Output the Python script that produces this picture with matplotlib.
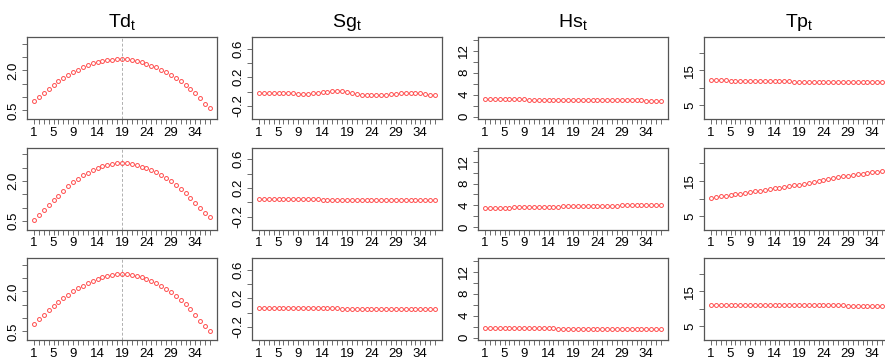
import numpy as np
import matplotlib.pyplot as plt

plt.rcParams['font.family'] = ['Liberation Sans', 'DejaVu Sans']
plt.rcParams['mathtext.fontset'] = 'custom'
plt.rcParams['mathtext.rm'] = 'Liberation Sans'
plt.rcParams['mathtext.it'] = 'Liberation Sans'

# time index
t = np.arange(1, 38)
xtick_labels = ['1', '5', '9', '14', '19', '24', '29', '34']

# Td (3 rows)
td1 = [0.86, 1.02, 1.17, 1.32, 1.46, 1.60, 1.72, 1.83, 1.93, 2.03, 2.12, 2.19, 2.26, 2.31, 2.34, 2.38, 2.40, 2.42, 2.43,
       2.42, 2.39, 2.35, 2.31, 2.24, 2.18, 2.11, 2.02, 1.93, 1.83, 1.72, 1.60, 1.46, 1.31, 1.14, 0.95, 0.76, 0.58]
td2 = [0.53, 0.72, 0.91, 1.10, 1.29, 1.46, 1.64, 1.81, 1.95, 2.08, 2.21, 2.31, 2.41, 2.49, 2.55, 2.60, 2.64, 2.67, 2.68,
       2.66, 2.63, 2.59, 2.54, 2.48, 2.41, 2.33, 2.22, 2.11, 2.00, 1.86, 1.70, 1.54, 1.35, 1.17, 0.99, 0.82, 0.64]
td3 = [0.78, 0.95, 1.13, 1.29, 1.45, 1.60, 1.74, 1.88, 2.00, 2.11, 2.21, 2.31, 2.39, 2.46, 2.53, 2.58, 2.61, 2.64, 2.65,
       2.64, 2.61, 2.58, 2.53, 2.46, 2.39, 2.30, 2.20, 2.09, 1.96, 1.83, 1.68, 1.51, 1.33, 1.11, 0.91, 0.70, 0.50]

# Sg
sg1 = [-0.02, -0.02, -0.02, -0.015, -0.015, -0.015, -0.02, -0.025, -0.03, -0.03, -0.03, -0.025, -0.02, -0.01, 0.0,
       0.01, 0.015, 0.01, 0.0, -0.015, -0.03, -0.04, -0.045, -0.045, -0.045, -0.045, -0.04, -0.035, -0.03, -0.025,
       -0.02, -0.02, -0.02, -0.025, -0.035, -0.045, -0.05]
sg2 = [0.045, 0.045, 0.044, 0.044, 0.043, 0.043, 0.042, 0.042, 0.041, 0.041, 0.040, 0.040, 0.040, 0.039, 0.039,
       0.039, 0.038, 0.038, 0.038, 0.037, 0.037, 0.037, 0.037, 0.036, 0.036, 0.036, 0.036, 0.036, 0.035, 0.035,
       0.035, 0.035, 0.035, 0.035, 0.035, 0.035, 0.035]
sg3 = [0.070, 0.070, 0.070, 0.070, 0.070, 0.070, 0.070, 0.070, 0.070, 0.070, 0.070, 0.070, 0.070, 0.070, 0.070,
       0.070, 0.058, 0.057, 0.057, 0.057, 0.057, 0.057, 0.057, 0.057, 0.057, 0.057, 0.057, 0.057, 0.057, 0.057,
       0.057, 0.057, 0.057, 0.057, 0.057, 0.057, 0.057]

# Hs
hs1 = [3.20, 3.19, 3.18, 3.17, 3.16, 3.15, 3.14, 3.13, 3.12, 3.11, 3.10, 3.09, 3.08, 3.07, 3.06, 3.06, 3.05, 3.04,
       3.03, 3.02, 3.02, 3.01, 3.00, 2.99, 2.99, 2.98, 2.97, 2.97, 2.96, 2.95, 2.95, 2.94, 2.94, 2.93, 2.93, 2.92, 2.92]
hs2 = [3.50, 3.52, 3.54, 3.56, 3.58, 3.60, 3.62, 3.64, 3.66, 3.68, 3.70, 3.72, 3.74, 3.76, 3.78, 3.79, 3.81, 3.83,
       3.84, 3.86, 3.87, 3.89, 3.90, 3.92, 3.93, 3.95, 3.96, 3.97, 3.99, 4.00, 4.01, 4.02, 4.04, 4.05, 4.06, 4.07, 4.08]
hs3 = [1.80, 1.79, 1.78, 1.77, 1.76, 1.75, 1.74, 1.73, 1.72, 1.71, 1.70, 1.69, 1.68, 1.67, 1.66, 1.65, 1.64, 1.63,
       1.62, 1.61, 1.61, 1.60, 1.59, 1.58, 1.58, 1.57, 1.56, 1.56, 1.55, 1.54, 1.54, 1.53, 1.53, 1.52, 1.52, 1.51, 1.51]

# Tp
tp1 = [12.20, 12.17, 12.14, 12.11, 12.08, 12.05, 12.03, 12.00, 11.98, 11.96, 11.94, 11.92, 11.90, 11.88, 11.86,
       11.84, 11.82, 11.80, 11.78, 11.77, 11.75, 11.74, 11.72, 11.71, 11.69, 11.68, 11.66, 11.65, 11.64, 11.62,
       11.61, 11.60, 11.58, 11.57, 11.56, 11.55, 11.54]
tp2 = [10.20, 10.40, 10.60, 10.80, 11.00, 11.20, 11.40, 11.60, 11.85, 12.05, 12.30, 12.50, 12.70, 12.90, 13.10,
       13.30, 13.50, 13.75, 14.00, 14.25, 14.50, 14.75, 15.00, 15.25, 15.50, 15.80, 16.10, 16.30, 16.50, 16.70,
       16.90, 17.10, 17.30, 17.50, 17.70, 17.90, 18.10]
tp3 = [11.10, 11.10, 11.09, 11.09, 11.08, 11.08, 11.07, 11.07, 11.06, 11.06, 11.05, 11.05, 11.04, 11.04, 11.03,
       11.03, 11.02, 11.02, 11.01, 11.01, 11.00, 11.00, 10.99, 10.99, 10.98, 10.98, 10.97, 10.97, 10.96, 10.96,
       10.95, 10.95, 10.94, 10.94, 10.93, 10.93, 10.92]

titles = [r'$\mathrm{Td}_\mathrm{t}$', r'$\mathrm{Sg}_\mathrm{t}$', r'$\mathrm{Hs}_\mathrm{t}$', r'$\mathrm{Tp}_\mathrm{t}$']
data = [[td1, sg1, hs1, tp1], [td2, sg2, hs2, tp2], [td3, sg3, hs3, tp3]]
ylims = [(0.18, 3.25), (-0.38, 0.76), (-0.45, 14.55), (1.13, 24.5)]
yticks = [[0.5, 1.0, 1.5, 2.0, 2.5, 3.0], [-0.2, 0.0, 0.2, 0.4, 0.6], [0, 2, 4, 6, 8, 10, 12, 14], [5, 10, 15, 20]]
yticklabels = [['0.5', '', '', '2.0', '', ''], ['-0.2', '', '0.2', '', '0.6'],
               ['0', '', '4', '', '8', '', '12', ''], ['5', '', '15', '']]

W, H = 885, 359
fig = plt.figure(figsize=(W / 100, H / 100), dpi=100)

col_left = [27, 252, 478, 704]
row_top = [37, 147.7, 258]
pw, ph = 190, 82
box_col = '#555555'

for r in range(3):
    for c in range(4):
        ax = fig.add_axes([col_left[c] / W, 1 - (row_top[r] + ph) / H, pw / W, ph / H])
        ax.plot(t, data[r][c], 'o', mfc='none', mec='#ff4a4a', ms=2.8, mew=0.7)
        if c == 0:
            ax.axvline(19, color='#b0b0b0', ls=(0, (3, 2)), lw=0.7, zorder=0)
        ax.set_xlim(1 - 0.04 * 36, 37 + 0.04 * 36)
        ax.set_ylim(*ylims[c])
        ax.set_xticks(t)
        ax.set_xticklabels([str(v) if str(v) in xtick_labels else '' for v in t])
        ax.set_yticks(yticks[c])
        ax.set_yticklabels(yticklabels[c])
        ax.tick_params(axis='both', direction='out', length=3.5, width=0.6, color=box_col,
                       labelsize=9.5, pad=2)
        ax.tick_params(axis='y', labelrotation=90)
        for lab in ax.get_yticklabels():
            lab.set_va('center')
        for s in ax.spines.values():
            s.set_color(box_col)
            s.set_linewidth(0.9)
        if r == 0:
            ax.set_title(titles[c], fontsize=14, pad=7)

fig.savefig('out.png', dpi=100)
